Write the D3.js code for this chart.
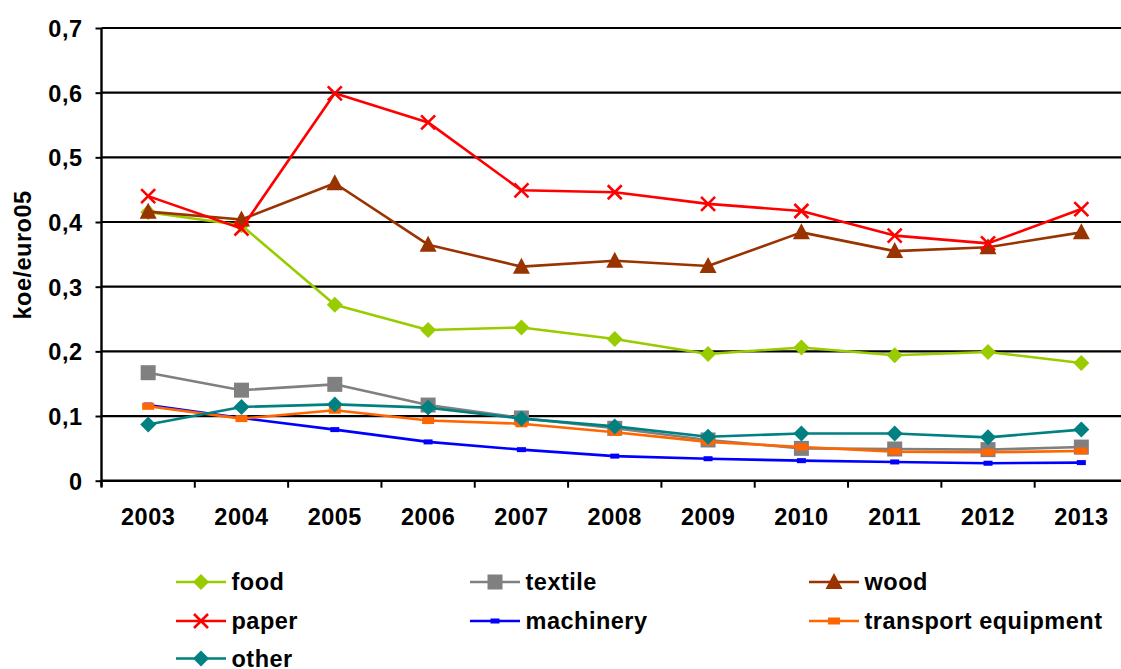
<!DOCTYPE html>
<html>
<head>
<meta charset="utf-8">
<script src="https://cdn.jsdelivr.net/npm/d3@7"></script>
<style>
  html, body { margin: 0; padding: 0; background: #fff; }
  svg { display: block; }
  text { font-family: "Liberation Sans", Arial, sans-serif; font-weight: bold; fill: #000; letter-spacing: 0.5px; }
</style>
</head>
<body>
<svg id="chart" width="1121" height="669"></svg>
<script>
// Energy intensity by industry sector, koe per euro (2005 prices)
const years = ["2003","2004","2005","2006","2007","2008","2009","2010","2011","2012","2013"];
const yTicks = [0, 0.1, 0.2, 0.3, 0.4, 0.5, 0.6, 0.7];

const food      = [0.415, 0.395, 0.272, 0.233, 0.237, 0.219, 0.196, 0.206, 0.194, 0.199, 0.182];
const textile   = [0.167, 0.140, 0.149, 0.117, 0.097, 0.081, 0.063, 0.050, 0.049, 0.048, 0.052];
const wood      = [0.416, 0.404, 0.460, 0.365, 0.331, 0.340, 0.332, 0.384, 0.355, 0.361, 0.384];
const paper     = [0.440, 0.390, 0.599, 0.554, 0.449, 0.446, 0.428, 0.417, 0.379, 0.367, 0.420];
const machinery = [0.117, 0.097, 0.079, 0.060, 0.048, 0.038, 0.034, 0.031, 0.029, 0.027, 0.028];
const transport = [0.115, 0.096, 0.109, 0.093, 0.088, 0.075, 0.060, 0.052, 0.045, 0.044, 0.046];
const other     = [0.087, 0.114, 0.118, 0.113, 0.096, 0.084, 0.068, 0.073, 0.073, 0.067, 0.079];

const seriesNames = ["food", "textile", "wood", "paper", "machinery", "transport equipment", "other"];
const seriesValues = [food, textile, wood, paper, machinery, transport, other];

const styles = {
  "food":                { color: "#99CC00", marker: "diamond" },
  "textile":             { color: "#808080", marker: "square" },
  "wood":                { color: "#993300", marker: "triangle" },
  "paper":               { color: "#FF0000", marker: "cross" },
  "machinery":           { color: "#0000FF", marker: "dashSmall" },
  "transport equipment": { color: "#FF6600", marker: "dashLarge" },
  "other":               { color: "#008080", marker: "diamond" }
};

const FONT = 23.5;

const series = seriesNames.map((name, i) => ({
  name,
  values: years.map((yr, j) => ({ year: yr, value: seriesValues[i][j] }))
}));

const svg = d3.select("#chart");
const plotLeft = 101.5, plotRight = 1128, plotTop = 28, plotBottom = 480.7;

const x = d3.scaleBand().domain(years).range([plotLeft, plotRight]).paddingInner(0).paddingOuter(0);
const cx = d => x(d) + x.bandwidth() / 2;
const y = d3.scaleLinear().domain([0, 0.7]).range([plotBottom, plotTop]);

// horizontal gridlines
svg.append("g")
  .selectAll("line")
  .data(yTicks.filter(t => t > 0))
  .join("line")
  .attr("x1", plotLeft).attr("x2", plotRight)
  .attr("y1", d => y(d)).attr("y2", d => y(d))
  .attr("stroke", "#000").attr("stroke-width", 2.2);

// y axis
const yAxis = svg.append("g")
  .attr("transform", `translate(${plotLeft},0)`)
  .call(d3.axisLeft(y).tickValues(yTicks).tickSize(6).tickPadding(13)
    .tickFormat(d => d === 0 ? "0" : d.toFixed(1).replace(".", ",")));
yAxis.select(".domain").attr("stroke", "#000").attr("stroke-width", 2.4)
  .attr("d", `M0,${plotTop}V${plotBottom + 6}`);
yAxis.selectAll(".tick line").attr("stroke", "#000").attr("stroke-width", 2);
yAxis.selectAll(".tick text").attr("font-size", FONT).attr("dy", "0.36em")
  .style("font-family", "'Liberation Sans', Arial, sans-serif").style("font-weight", "bold");

// x axis: baseline, boundary ticks between categories, centred labels
const xAxis = svg.append("g").attr("transform", `translate(0,${plotBottom})`);
xAxis.append("line").attr("x1", plotLeft).attr("x2", plotRight).attr("y1", 0).attr("y2", 0)
  .attr("stroke", "#000").attr("stroke-width", 2.4);
const edges = years.map(d => x(d)).concat([x(years[years.length - 1]) + x.bandwidth()]);
xAxis.selectAll("line.tk").data(edges).join("line").attr("class", "tk")
  .attr("x1", d => d).attr("x2", d => d).attr("y1", 0).attr("y2", 7)
  .attr("stroke", "#000").attr("stroke-width", 2);
xAxis.selectAll("text").data(years).join("text")
  .attr("x", d => cx(d)).attr("y", 44.5)
  .attr("text-anchor", "middle").attr("font-size", FONT)
  .text(d => d);

// y axis title
svg.append("text")
  .attr("transform", `translate(31,255) rotate(-90)`)
  .attr("text-anchor", "middle").attr("font-size", FONT)
  .text("koe/euro05");

// marker drawing
function drawMarker(g, type, color) {
  if (type === "diamond") {
    g.append("path").attr("d", "M0,-8L8,0L0,8L-8,0Z").attr("fill", color);
  } else if (type === "square") {
    g.append("rect").attr("x", -7.5).attr("y", -7.5).attr("width", 15).attr("height", 15).attr("fill", color);
  } else if (type === "triangle") {
    g.append("path").attr("d", "M0,-9L8.5,7L-8.5,7Z").attr("fill", color);
  } else if (type === "cross") {
    g.append("path").attr("d", "M-7,-7L7,7M-7,7L7,-7")
      .attr("stroke", color).attr("stroke-width", 2.6).attr("fill", "none");
  } else if (type === "dashSmall") {
    g.append("rect").attr("x", -4.5).attr("y", -2.5).attr("width", 9).attr("height", 5).attr("fill", color);
  } else if (type === "dashLarge") {
    g.append("rect").attr("x", -6).attr("y", -3.5).attr("width", 12).attr("height", 7).attr("fill", color);
  }
}

const line = d3.line().x(d => cx(d.year)).y(d => y(d.value));

series.forEach(s => {
  const st = styles[s.name];
  const g = svg.append("g");
  g.append("path").datum(s.values).attr("d", line)
    .attr("fill", "none").attr("stroke", st.color).attr("stroke-width", 2.6)
    .attr("stroke-linejoin", "round");
  s.values.forEach(v => {
    const m = g.append("g").attr("transform", `translate(${cx(v.year)},${y(v.value)})`);
    drawMarker(m, st.marker, st.color);
  });
});

// legend
const legendCols = [176, 470, 809];
const legendRows = [582, 621, 658.5];
seriesNames.forEach((name, i) => {
  const st = styles[name];
  const lx = legendCols[i % 3], ly = legendRows[Math.floor(i / 3)];
  const g = svg.append("g").attr("transform", `translate(${lx},${ly})`);
  g.append("line").attr("x1", 0).attr("x2", 50).attr("y1", 0).attr("y2", 0)
    .attr("stroke", st.color).attr("stroke-width", 2.6);
  const m = g.append("g").attr("transform", "translate(25,0)");
  drawMarker(m, st.marker, st.color);
  g.append("text").attr("x", 55.5).attr("y", 8).attr("font-size", FONT).text(name);
});
</script>
</body>
</html>
